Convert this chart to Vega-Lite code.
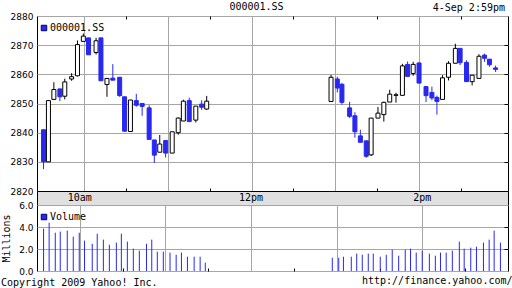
{
  "$schema": "https://vega.github.io/schema/vega-lite/v6.json",
  "background": "white",
  "padding": {"left": 0, "top": 2, "right": 0, "bottom": 0},
  "title": {"text": "000001.SS", "anchor": "middle", "frame": "bounds", "baseline": "alphabetic", "offset": 0, "dy": 18},
  "spacing": 0,
  "bounds": "flush",
  "resolve": {"scale": {"color": "independent"}, "legend": {"color": "independent"}},
  "datasets": {
    "candles": [
      {"t": 1.1, "o": 2841, "h": 2841, "l": 2827.5, "c": 2830, "v": null},
      {"t": 4.6, "o": 2830, "h": 2851, "l": 2830, "c": 2851, "v": 3.85},
      {"t": 8.5, "o": 2851.4, "h": 2857.3, "l": 2851.4, "c": 2854.8, "v": 4.39},
      {"t": 12.8, "o": 2855, "h": 2855, "l": 2850.8, "c": 2852.3, "v": 3.48},
      {"t": 16.3, "o": 2852.5, "h": 2858.5, "l": 2851.4, "c": 2857.4, "v": 3.58},
      {"t": 21.2, "o": 2858.4, "h": 2860.4, "l": 2857.8, "c": 2859.2, "v": 3.67},
      {"t": 25.4, "o": 2859.5, "h": 2871.6, "l": 2859.3, "c": 2870.2, "v": 3.12},
      {"t": 29.6, "o": 2871.3, "h": 2874, "l": 2871.3, "c": 2873.1, "v": 3.48},
      {"t": 33.3, "o": 2872.5, "h": 2872.5, "l": 2866.7, "c": 2866.7, "v": 2.76},
      {"t": 38.7, "o": 2867.5, "h": 2872.5, "l": 2866.8, "c": 2871.5, "v": 2.48},
      {"t": 42.2, "o": 2872.5, "h": 2872.5, "l": 2857.8, "c": 2857.8, "v": 3.39},
      {"t": 46.5, "o": 2856.5, "h": 2858.7, "l": 2852.3, "c": 2858.6, "v": 2.85},
      {"t": 50.7, "o": 2858.7, "h": 2863.5, "l": 2858.0, "c": 2858.0, "v": 2.39},
      {"t": 55.6, "o": 2859, "h": 2859, "l": 2852.3, "c": 2852.7, "v": 2.58},
      {"t": 59.1, "o": 2852.3, "h": 2852.3, "l": 2840.4, "c": 2840.5, "v": 3.39},
      {"t": 63.3, "o": 2840.4, "h": 2851.2, "l": 2840.4, "c": 2851.2, "v": 2.67},
      {"t": 67.5, "o": 2851, "h": 2853.3, "l": 2848.9, "c": 2849.4, "v": 2.03},
      {"t": 71.7, "o": 2850, "h": 2850.2, "l": 2845.8, "c": 2849, "v": 1.85},
      {"t": 76.7, "o": 2848.5, "h": 2849.4, "l": 2837.7, "c": 2837.7, "v": 2.48},
      {"t": 80.4, "o": 2837.5, "h": 2837.5, "l": 2829.6, "c": 2832.3, "v": 2.85},
      {"t": 84.3, "o": 2833.3, "h": 2839.2, "l": 2833.3, "c": 2836.1, "v": 1.76},
      {"t": 88.5, "o": 2837.3, "h": 2837.3, "l": 2831.5, "c": 2833, "v": 1.76},
      {"t": 93.2, "o": 2833, "h": 2840.3, "l": 2833, "c": 2840.3, "v": 1.67},
      {"t": 97.5, "o": 2840, "h": 2845.2, "l": 2839.3, "c": 2845, "v": 1.48},
      {"t": 101.2, "o": 2844, "h": 2851.3, "l": 2844, "c": 2850.8, "v": 1.67},
      {"t": 105.4, "o": 2851, "h": 2852, "l": 2843.8, "c": 2843.8, "v": 1.30},
      {"t": 110.1, "o": 2844.3, "h": 2849.1, "l": 2843.5, "c": 2849.1, "v": 1.30},
      {"t": 114.3, "o": 2849.8, "h": 2851.1, "l": 2847.8, "c": 2848.7, "v": 1.30},
      {"t": 117.9, "o": 2848.1, "h": 2852.6, "l": 2847.8, "c": 2850.8, "v": 0.76},
      {"t": 206.9, "o": 2850.7, "h": 2859.8, "l": 2850.7, "c": 2859, "v": 1.21},
      {"t": 211.4, "o": 2858.4, "h": 2859.2, "l": 2853.8, "c": 2855.3, "v": 1.21},
      {"t": 214.7, "o": 2856.6, "h": 2857, "l": 2849.6, "c": 2850.4, "v": 1.30},
      {"t": 220.2, "o": 2848.5, "h": 2850.6, "l": 2845, "c": 2845.6, "v": 1.30},
      {"t": 224.0, "o": 2845.8, "h": 2847, "l": 2838.3, "c": 2840.3, "v": 1.58},
      {"t": 227.9, "o": 2838.9, "h": 2841, "l": 2836.7, "c": 2836.7, "v": 1.48},
      {"t": 232.1, "o": 2837.2, "h": 2837.2, "l": 2831.4, "c": 2831.9, "v": 1.58},
      {"t": 235.6, "o": 2832.4, "h": 2845, "l": 2832, "c": 2845, "v": 1.58},
      {"t": 240.5, "o": 2845, "h": 2848.8, "l": 2845, "c": 2846.7, "v": 1.30},
      {"t": 244.7, "o": 2846.2, "h": 2850.6, "l": 2843.8, "c": 2850.4, "v": 1.48},
      {"t": 248.9, "o": 2850.5, "h": 2854.7, "l": 2850.5, "c": 2853.2, "v": 1.94},
      {"t": 253.4, "o": 2852.8, "h": 2853.7, "l": 2850.3, "c": 2853, "v": 1.39},
      {"t": 258.0, "o": 2852.8, "h": 2863.6, "l": 2852.8, "c": 2862.9, "v": 1.94},
      {"t": 261.7, "o": 2863.4, "h": 2864.4, "l": 2859.3, "c": 2859.3, "v": 2.03},
      {"t": 265.7, "o": 2860.3, "h": 2864.3, "l": 2859.5, "c": 2863.4, "v": 1.67},
      {"t": 269.9, "o": 2863.9, "h": 2864, "l": 2857, "c": 2857, "v": 1.85},
      {"t": 274.9, "o": 2855.8, "h": 2856, "l": 2850.5, "c": 2852.7, "v": 1.58},
      {"t": 279.1, "o": 2853.8, "h": 2855.8, "l": 2851.1, "c": 2851.9, "v": 1.39},
      {"t": 282.7, "o": 2852.1, "h": 2852.7, "l": 2846.2, "c": 2850.7, "v": 1.67},
      {"t": 286.7, "o": 2851.4, "h": 2859.7, "l": 2851.4, "c": 2858.8, "v": 1.67},
      {"t": 291.0, "o": 2859, "h": 2864.5, "l": 2857.9, "c": 2863.8, "v": 1.85},
      {"t": 295.9, "o": 2863.8, "h": 2870.5, "l": 2863.8, "c": 2868.9, "v": 2.67},
      {"t": 299.3, "o": 2868.9, "h": 2868.9, "l": 2863.2, "c": 2864, "v": 2.03},
      {"t": 303.9, "o": 2864.1, "h": 2864.8, "l": 2857.5, "c": 2857.5, "v": 2.12},
      {"t": 307.9, "o": 2857.5, "h": 2859.7, "l": 2856.2, "c": 2859.7, "v": 2.21},
      {"t": 312.8, "o": 2858.6, "h": 2866.9, "l": 2858.6, "c": 2866.2, "v": 2.58},
      {"t": 316.8, "o": 2866.6, "h": 2867.1, "l": 2864.3, "c": 2865.5, "v": 2.85},
      {"t": 320.3, "o": 2865.2, "h": 2865.2, "l": 2862.6, "c": 2863.3, "v": 3.67},
      {"t": 324.7, "o": 2862.2, "h": 2863, "l": 2860.8, "c": 2861.7, "v": 2.58}
    ],
    "hours": [
      {"t": 30, "label": "10am"},
      {"t": 150, "label": "12pm"},
      {"t": 270, "label": "2pm"}
    ]
  },
  "vconcat": [
    {
      "width": 471,
      "height": 175,
      "title": {"text": "4-Sep 2:59pm", "anchor": "end", "frame": "group", "baseline": "alphabetic", "offset": -8.5, "dx": -3},
      "data": {"name": "candles"},
      "resolve": {"axis": {"x": "independent", "y": "independent"}},
      "layer": [
        {
          "mark": {"type": "rule", "strokeWidth": 1},
          "encoding": {
            "x": {"field": "t", "type": "quantitative",
              "scale": {"domain": [0, 330], "nice": false, "zero": false},
              "axis": {"orient": "bottom", "values": [30, 60, 90, 120, 150, 180, 210, 240, 270, 300], "labels": false, "domain": false, "title": null, "grid": true,
                "gridOpacity": {"condition": {"test": "datum.value % 60 == 30", "value": 1}, "value": 0},
                "tickOpacity": {"condition": {"test": "datum.value % 60 == 0", "value": 1}, "value": 0},
                "tickSize": -3, "minExtent": 0, "maxExtent": 0}},
            "y": {"field": "l", "type": "quantitative",
              "scale": {"domain": [2820, 2880], "nice": false, "zero": false},
              "axis": {"orient": "left", "values": [2820, 2830, 2840, 2850, 2860, 2870, 2880], "format": "d", "ticks": false, "labelPadding": 4, "grid": true, "domain": false, "title": null}},
            "y2": {"field": "h"},
            "color": {"condition": {"test": "datum.c < datum.o", "value": "#2828f0"}, "value": "black"}
          }
        },
        {
          "mark": {"type": "bar", "width": 4, "strokeWidth": 1},
          "encoding": {
            "x": {"field": "t", "type": "quantitative",
              "axis": {"orient": "top", "values": [60, 120, 180, 240, 300], "labels": false, "domain": false, "title": null, "grid": false, "tickSize": -3, "minExtent": 0, "maxExtent": 0}},
            "y": {"field": "o", "type": "quantitative",
              "axis": {"orient": "right", "values": [2830, 2840, 2850, 2860, 2870], "labels": false, "domain": false, "title": null, "grid": false, "tickSize": -4, "minExtent": 0, "maxExtent": 0}},
            "y2": {"field": "c"},
            "fill": {"condition": {"test": "datum.c < datum.o", "value": "#2828f0"}, "value": "white"},
            "stroke": {"condition": {"test": "datum.c < datum.o", "value": "#2828f0"}, "value": "black"}
          }
        },
        {
          "mark": {"type": "square", "opacity": 0, "size": 30},
          "encoding": {
            "x": {"field": "t", "type": "quantitative", "axis": null},
            "y": {"field": "o", "type": "quantitative", "axis": null},
            "color": {"datum": "000001.SS", "scale": {"range": ["#2828f0"]},
              "legend": {"orient": "none", "legendX": 2, "legendY": 7, "padding": 0, "title": null, "symbolType": "square", "symbolOpacity": 1, "symbolSize": 30, "symbolStrokeColor": "#000060", "symbolStrokeWidth": 1, "labelOffset": 1}}
          }
        }
      ]
    },
    {
      "width": 471,
      "height": 14,
      "view": {"fill": "#e0e0e0", "stroke": "black"},
      "data": {"name": "hours"},
      "mark": {"type": "text", "font": "DejaVu Sans Mono", "fontSize": 10, "baseline": "middle", "color": "black"},
      "encoding": {
        "x": {"field": "t", "type": "quantitative", "scale": {"domain": [0, 330], "nice": false, "zero": false}, "axis": null},
        "text": {"field": "label"}
      }
    },
    {
      "width": 471,
      "height": 66,
      "title": {"text": "Copyright 2009 Yahoo! Inc.", "orient": "bottom", "anchor": "start", "frame": "group", "baseline": "alphabetic", "offset": 0, "dx": -36, "dy": 0},
      "data": {"name": "candles"},
      "resolve": {"axis": {"x": "independent", "y": "independent"}},
      "layer": [
        {
          "mark": {"type": "rule", "color": "#2828f0", "strokeWidth": 1},
          "encoding": {
            "x": {"field": "t", "type": "quantitative",
              "scale": {"domain": [0, 330], "nice": false, "zero": false},
              "axis": {"orient": "bottom", "values": [30, 60, 90, 120, 150, 180, 210, 240, 270, 300], "labels": false, "domain": false, "grid": true,
                "gridOpacity": {"condition": {"test": "datum.value % 60 == 30", "value": 1}, "value": 0},
                "tickOpacity": {"condition": {"test": "datum.value % 60 == 0", "value": 1}, "value": 0},
                "tickSize": -3,
                "title": "http://finance.yahoo.com/", "titleFont": "DejaVu Sans Mono", "titleFontSize": 10, "titleFontWeight": "normal",
                "titleX": 475, "titleAlign": "right", "titleY": 12.5, "titleBaseline": "alphabetic"}},
            "y": {"field": "v", "type": "quantitative",
              "scale": {"domain": [0, 6], "nice": false, "zero": true},
              "axis": {"orient": "left", "values": [0, 2, 4, 6], "format": ".1f", "ticks": false, "labelPadding": 4, "grid": true, "domain": false,
                "title": "Millions", "titleFont": "DejaVu Sans Mono", "titleFontSize": 10, "titleFontWeight": "normal", "titlePadding": 7}},
            "y2": {"datum": 0}
          }
        },
        {
          "mark": {"type": "square", "opacity": 0, "size": 30},
          "encoding": {
            "x": {"field": "t", "type": "quantitative", "axis": null},
            "y": {"field": "v", "type": "quantitative",
              "axis": {"orient": "right", "values": [2, 4], "labels": false, "domain": false, "title": null, "grid": false, "tickSize": -4, "minExtent": 0, "maxExtent": 0}},
            "color": {"datum": "Volume", "scale": {"range": ["#2828f0"]},
              "legend": {"orient": "none", "legendX": 2, "legendY": 7, "padding": 0, "title": null, "symbolType": "square", "symbolOpacity": 1, "symbolSize": 30, "symbolStrokeColor": "#000060", "symbolStrokeWidth": 1, "labelOffset": 1}}
          }
        }
      ]
    }
  ],
  "config": {
    "view": {"stroke": "black", "strokeWidth": 1},
    "axis": {"gridColor": "#a6a6a6", "gridWidth": 1, "tickColor": "black", "labelColor": "black", "labelFont": "DejaVu Sans", "labelFontSize": 9, "titleColor": "black"},
    "title": {"font": "DejaVu Sans Mono", "fontSize": 10, "fontWeight": "normal", "color": "black"},
    "legend": {"labelFont": "DejaVu Sans Mono", "labelFontSize": 10, "labelColor": "black"}
  }
}
